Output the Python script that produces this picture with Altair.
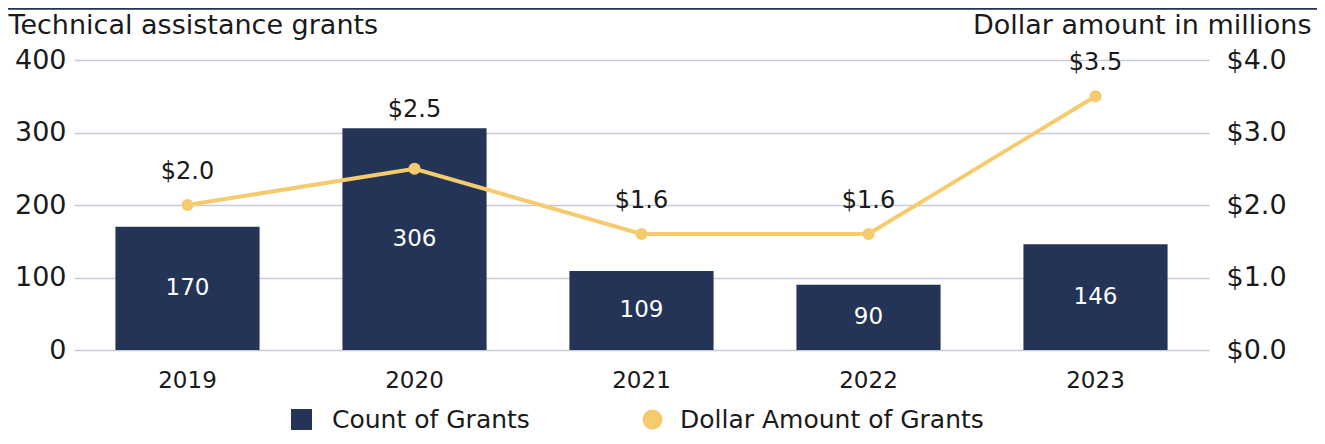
import altair as alt
import pandas as pd

years = ["2019", "2020", "2021", "2022", "2023"]
counts = [170, 306, 109, 90, 146]
dollars = [2.0, 2.5, 1.6, 1.6, 3.5]
count_labels = ["170", "306", "109", "90", "146"]
dollar_labels = ["$2.0", "$2.5", "$1.6", "$1.6", "$3.5"]
left_ticks = [0, 100, 200, 300, 400]
right_ticks = [0, 1, 2, 3, 4]
series = ["Count of Grants", "Dollar Amount of Grants"]

NAVY = "#233457"
GOLD = "#F6CB6D"
GRID = "#c8cbd7"
TXT = "#1a1a1a"
FONT = "DejaVu Sans"

df = pd.DataFrame({
    "year": years, "count": counts, "dollars": dollars,
    "clabel": count_labels, "dlabel": dollar_labels,
    "s1": series[0], "s2": series[1],
})

W, H = 1135, 290

xenc = alt.X("year:N",
             scale=alt.Scale(paddingInner=0.365, paddingOuter=0.1825),
             axis=alt.Axis(title=None, labelAngle=0, ticks=False, domain=False,
                           labelFontSize=23, labelPadding=19, labelColor=TXT,
                           labelFont=FONT))

left_axis = alt.Axis(values=left_ticks, title="Technical assistance grants",
                     titleAngle=0, titleX=-66, titleY=-35, titleAlign="left",
                     titleBaseline="middle", titleFontSize=27, titleFontWeight="normal",
                     titleFont=FONT, titleColor=TXT,
                     grid=True, gridColor=GRID, gridWidth=1.5, ticks=False, domain=False,
                     labelFontSize=27, labelPadding=8, labelColor=TXT, labelFont=FONT)

right_axis = alt.Axis(orient="right", values=right_ticks, format="$.1f",
                      title="Dollar amount in millions", titleAngle=0, titleX=102,
                      titleY=-35, titleAlign="right", titleBaseline="middle",
                      titleFontSize=27, titleFontWeight="normal", titleFont=FONT,
                      titleColor=TXT, grid=False, ticks=False, domain=False,
                      labelFontSize=27, labelPadding=17, labelColor=TXT, labelFont=FONT)

base = alt.Chart(df)

bars = base.mark_bar().encode(
    x=xenc,
    y=alt.Y("count:Q", scale=alt.Scale(domain=[0, 400]), axis=left_axis),
    color=alt.Color("s1:N", scale=alt.Scale(domain=[series[0]], range=[NAVY]),
                    legend=alt.Legend(title=None, orient="none", legendX=215, legendY=347,
                                      symbolType="square", symbolSize=441,
                                      symbolStrokeWidth=0, labelFontSize=25,
                                      labelOffset=18, padding=0, labelFont=FONT,
                                      labelColor=TXT, labelLimit=0)),
)

count_text = base.transform_calculate(mid="datum.count / 2").mark_text(
    color="white", fontSize=23, font=FONT, baseline="middle"
).encode(
    x=xenc,
    y=alt.Y("mid:Q", scale=alt.Scale(domain=[0, 400]), axis=left_axis),
    text="clabel:N",
)

border = base.mark_rule(color=NAVY, strokeWidth=1.5).encode(
    x=alt.value(-66), x2=alt.value(1243), y=alt.value(-51.5)
)

left = alt.layer(bars, count_text, border)

yright = alt.Y("dollars:Q", scale=alt.Scale(domain=[0, 4]), axis=right_axis)

line = base.mark_line(color=GOLD, strokeWidth=4).encode(x=xenc, y=yright)

points = base.mark_circle(size=150, opacity=1).encode(
    x=xenc, y=yright,
    color=alt.Color("s2:N", scale=alt.Scale(domain=[series[1]], range=[GOLD]),
                    legend=alt.Legend(title=None, orient="none", legendX=566, legendY=347,
                                      symbolType="circle", symbolSize=400,
                                      symbolStrokeWidth=0, labelFontSize=25,
                                      labelOffset=15, padding=0, labelFont=FONT,
                                      labelColor=TXT, labelLimit=0)),
)

# labels above the point when the point is above its bar
dollar_text_pt = base.transform_filter(
    "datum.count / 100 <= datum.dollars"
).mark_text(fontSize=24, font=FONT, color=TXT, dy=-33, baseline="middle").encode(
    x=xenc, y=yright, text="dlabel:N"
)

# labels above the bar top when the bar is above the point
dollar_text_bar = base.transform_filter(
    "datum.count / 100 > datum.dollars"
).transform_calculate(top="datum.count / 100").mark_text(
    fontSize=24, font=FONT, color=TXT, dy=-18, baseline="middle"
).encode(
    x=xenc, y=alt.Y("top:Q", scale=alt.Scale(domain=[0, 4]), axis=right_axis),
    text="dlabel:N"
)

right = alt.layer(line, points, dollar_text_pt, dollar_text_bar)

chart = alt.layer(left, right).resolve_scale(
    y="independent", color="independent"
).properties(
    width=W, height=H,
    autosize=alt.AutoSizeParams(type="none"),
    padding={"left": 66, "top": 52, "right": 108, "bottom": 86},
).configure_view(stroke=None)

chart.save("out.html", embed_options={"renderer": "svg", "actions": False})
